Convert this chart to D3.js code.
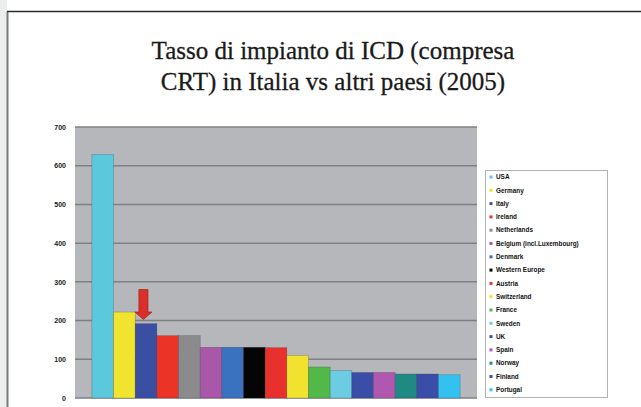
<!DOCTYPE html>
<html>
<head>
<meta charset="utf-8">
<script src="https://cdn.jsdelivr.net/npm/d3@7"></script>
<style>
  body { margin: 0; background: #fff; }
  svg { display: block; }
  .title { font-family: "Liberation Serif", "DejaVu Serif", serif; font-size: 25px; fill: #1a1a1a; stroke: #1a1a1a; stroke-width: 0.3px; }
  .axis text { font-family: "Liberation Sans", Arial, sans-serif; font-size: 7px; font-weight: bold; fill: #222; }
  .legend text { font-family: "Liberation Sans", Arial, sans-serif; font-size: 6.4px; font-weight: bold; fill: #111; }
</style>
</head>
<body>
<svg id="chart"></svg>
<script>
const countries = ['USA', 'Germany', 'Italy', 'Ireland', 'Netherlands', 'Belgium (incl.Luxembourg)',
  'Denmark', 'Western Europe', 'Austria', 'Switzerland', 'France', 'Sweden', 'UK', 'Spain',
  'Norway', 'Finland', 'Portugal']
const rates = [629, 222, 192, 161, 161, 131, 131, 131, 130, 110, 80, 71, 66, 66, 62, 62, 60]
const colors = ['#5cc8dc', '#f0e42e', '#3a4ea2', '#ec3328', '#8b8b8d', '#a957a9', '#3a72c0', '#050505',
  '#e8312c', '#f2e230', '#52b848', '#6ccde2', '#3a4ea8', '#b058b0', '#1f8a82', '#3a4ea8', '#33c2f0']
const yTicks = [0, 100, 200, 300, 400, 500, 600, 700]
const titleLines = ['Tasso di impianto di ICD (compresa', 'CRT) in Italia vs altri paesi (2005)']
const highlight = 'Italy'

class RateChart {
  constructor(_config) {
    this.config = {
      parentElement: _config.parentElement,
      containerWidth: 641,
      containerHeight: 407,
      plot: { left: 75, top: 127, width: 402, height: 271 }
    }
    this.initVis()
  }

  initVis() {
    let vis = this
    let p = vis.config.plot

    vis.svg = d3.select(vis.config.parentElement)
      .attr('width', vis.config.containerWidth)
      .attr('height', vis.config.containerHeight)

    // slide frame
    vis.svg.append('rect').attr('x', 0).attr('y', 0).attr('width', 7).attr('height', 407).attr('fill', '#eceeee')
    vis.svg.append('line').attr('x1', 7.5).attr('x2', 7.5).attr('y1', 11.5).attr('y2', 407)
      .attr('stroke', '#7a7a7a').attr('stroke-width', 2)
    vis.svg.append('line').attr('x1', 7).attr('x2', 641).attr('y1', 11.5).attr('y2', 11.5)
      .attr('stroke', '#2a2a2a').attr('stroke-width', 1.5)

    vis.svg.selectAll('.title')
      .data(titleLines)
      .join('text')
        .attr('class', 'title')
        .attr('x', 333)
        .attr('y', (d, i) => 59 + i * 31)
        .attr('text-anchor', 'middle')
        .text(d => d)

    vis.chart = vis.svg.append('g')
      .attr('transform', `translate(${p.left}, ${p.top})`)

    vis.xScale = d3.scaleBand()
      .domain(countries)
      .range([0, p.width])
      .paddingInner(0)
      .paddingOuter(0.78)

    vis.yScale = d3.scaleLinear()
      .domain([0, 700])
      .range([p.height, 0])

    vis.chart.append('rect')
      .attr('width', p.width)
      .attr('height', p.height)
      .attr('fill', '#b5b7ba')

    vis.chart.append('g')
      .selectAll('line')
      .data(yTicks)
      .join('line')
        .attr('x1', 0)
        .attr('x2', p.width)
        .attr('y1', d => vis.yScale(d))
        .attr('y2', d => vis.yScale(d))
        .attr('stroke', '#7e8084')
        .attr('stroke-width', 1.5)

    vis.yAxis = d3.axisLeft(vis.yScale)
      .tickValues(yTicks)
      .tickSize(0)
      .tickPadding(9)

    vis.yAxisGroup = vis.chart.append('g')
      .attr('class', 'axis y-axis')
    vis.renderVis()
  }

  renderVis() {
    let vis = this
    let p = vis.config.plot

    vis.chart.selectAll('.bar')
      .data(countries)
      .join('rect')
        .attr('class', 'bar')
        .attr('x', d => vis.xScale(d))
        .attr('width', vis.xScale.bandwidth())
        .attr('y', (d, i) => vis.yScale(rates[i]))
        .attr('height', (d, i) => p.height - vis.yScale(rates[i]))
        .attr('fill', (d, i) => colors[i])
        .attr('stroke', 'rgba(40,40,60,0.35)')
        .attr('stroke-width', 0.6)

    // red arrow over Italy
    let ax = vis.xScale(highlight) + vis.xScale.bandwidth() * 0.38
    let yTop = vis.yScale(280), yNeck = vis.yScale(222), yTip = vis.yScale(203)
    vis.chart.append('path')
      .attr('d', `M${ax - 4.5},${yTop} L${ax + 4.5},${yTop} L${ax + 4.5},${yNeck} L${ax + 8.5},${yNeck}
        L${ax},${yTip} L${ax - 8.5},${yNeck} L${ax - 4.5},${yNeck} Z`)
      .attr('fill', '#dc2f2a')
      .attr('stroke', '#a82420')
      .attr('stroke-width', 0.8)

    vis.yAxisGroup.call(vis.yAxis)
    vis.yAxisGroup.select('.domain').remove()

    // legend
    let legend = vis.svg.append('g').attr('class', 'legend')
    legend.append('rect')
      .attr('x', 485.5).attr('y', 170.5).attr('width', 122).attr('height', 227)
      .attr('fill', '#fff').attr('stroke', '#b3b3b3').attr('stroke-width', 1)
    let items = legend.selectAll('.item')
      .data(countries)
      .join('g')
        .attr('class', 'item')
        .attr('transform', (d, i) => `translate(491, ${177 + i * 13.3})`)
    items.append('rect')
      .attr('x', -1.5).attr('y', -1.5).attr('width', 3).attr('height', 3)
      .attr('fill', (d, i) => colors[i])
    items.append('text')
      .attr('x', 5)
      .attr('dy', '0.35em')
      .text(d => d)
  }
}

new RateChart({ parentElement: '#chart' })
</script>
</body>
</html>
